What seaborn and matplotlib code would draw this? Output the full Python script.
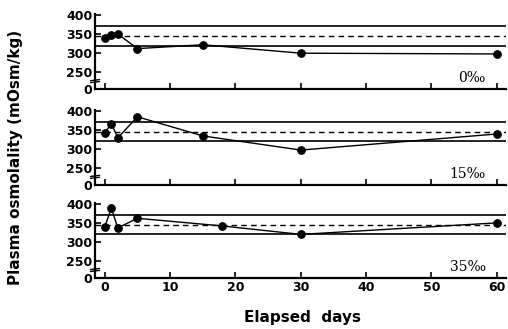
import numpy as np
import pandas as pd
import matplotlib
matplotlib.use("Agg")
import matplotlib.pyplot as plt
import seaborn as sns

# data (mOsm/kg)
days_0 = [0, 1, 2, 5, 15, 30, 60]
osm_0 = [340, 347, 350, 312, 322, 300, 298]
days_15 = [0, 1, 2, 5, 15, 30, 60]
osm_15 = [342, 366, 329, 384, 334, 297, 339]
days_35 = [0, 1, 2, 5, 18, 30, 60]
osm_35 = [340, 388, 337, 362, 342, 320, 350]
salinity = ["0\u2030", "15\u2030", "35\u2030"]
# normal range (upper, mean, lower)
ref_hi, ref_mean, ref_lo = 370, 345, 320
y_ticks = [0, 250, 300, 350, 400]
x_ticks = [0, 10, 20, 30, 40, 50, 60]

ZERO_POS = 206  # where the broken axis puts 0

sns.set_style("white")
plt.rcParams['font.family'] = ['DejaVu Sans']
plt.rcParams['text.color'] = 'black'
plt.rcParams['xtick.color'] = 'black'
plt.rcParams['ytick.color'] = 'black'

fig = plt.figure(figsize=(5.08, 3.29), dpi=100)
bottoms = [0.729, 0.438, 0.155]
height = 0.228
panels = [(days_0, osm_0), (days_15, osm_15), (days_35, osm_35)]

for i, (d, v) in enumerate(panels):
    ax = fig.add_axes([0.187, bottoms[i], 0.81, height])
    df = pd.DataFrame({"day": d, "osm": v})
    for yv, ls in [(ref_hi, "-"), (ref_mean, (0, (4, 3))), (ref_lo, "-")]:
        ax.axhline(yv, color="black", lw=1.2 if ls == "-" else 1.0, ls=ls)
    sns.lineplot(data=df, x="day", y="osm", marker="o", color="black",
                 lw=1.0, markersize=5.5, markeredgecolor="black", ax=ax)
    ax.set_xlim(-1.5, 61.5)
    ax.set_ylim(ZERO_POS, 402)
    ax.set_yticks([ZERO_POS if t == 0 else t for t in y_ticks])
    ax.set_yticklabels([str(t) for t in y_ticks], fontweight="bold", fontsize=9)
    ax.set_xticks(x_ticks)
    if i == 2:
        ax.set_xticklabels([str(t) for t in x_ticks], fontweight="bold", fontsize=9)
    else:
        ax.set_xticklabels([])
    ax.tick_params(axis="both", direction="in", length=4, width=1.2, pad=2,
                   left=True, bottom=True)
    ax.set_xlabel("")
    ax.set_ylabel("")
    for s in ["top", "right"]:
        ax.spines[s].set_visible(False)
    for s in ["left", "bottom"]:
        ax.spines[s].set_linewidth(1.6)
        ax.spines[s].set_color("black")
    # axis break marks
    ax.plot([-2.2, -0.8], [228, 231], color="black", lw=1.0, clip_on=False)
    ax.plot([-2.2, -0.8], [223, 226], color="black", lw=1.0, clip_on=False)
    ax.text(0.95, 0.05, salinity[i], transform=ax.transAxes, ha="right",
            va="bottom", fontsize=10, family="DejaVu Serif")

fig.text(0.03, 0.52, "Plasma osmolality (mOsm/kg)", rotation=90,
         ha="center", va="center", fontsize=11, fontweight="bold")
fig.text(0.595, 0.035, "Elapsed  days", ha="center", va="center",
         fontsize=11, fontweight="bold")

fig.savefig("out.png", dpi=100)
